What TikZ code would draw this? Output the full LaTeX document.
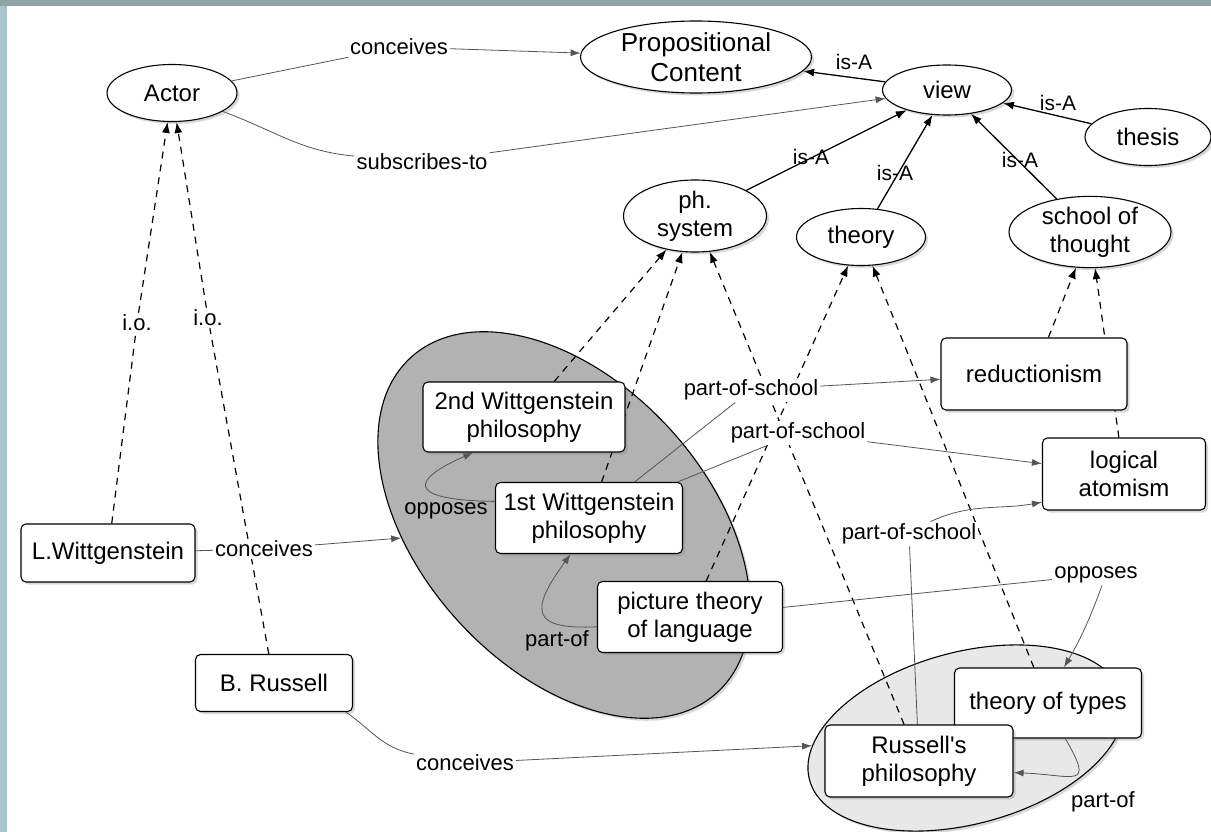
\documentclass[tikz,border=0pt]{standalone}
\usepackage{fontspec}
\setmainfont{Liberation Sans}
\usetikzlibrary{shapes.geometric}
\usetikzlibrary{arrows.meta}
\usetikzlibrary{shadows}
\usetikzlibrary{backgrounds}

\definecolor{framebar}{HTML}{8EA3A6}
\definecolor{sidebar}{HTML}{AAC5C9}
\definecolor{linkgray}{HTML}{555555}

\newcommand{\nodefont}{\fontsize{24}{28}\selectfont}
\newcommand{\phrasefont}{\fontsize{22}{25}\selectfont}
\newcommand{\isafont}{\fontsize{21}{24}\selectfont}

\begin{document}
\begin{tikzpicture}[x=1pt,y=-1pt,
    softshadow/.style={drop shadow={shadow xshift=2.5pt,shadow yshift=-2.5pt,opacity=0.3}},
    concept/.style={ellipse,draw,fill=white,line width=1.1pt,inner sep=0pt,align=center,font=\nodefont,softshadow},
    thing/.style={rectangle,rounded corners=5pt,draw,fill=white,line width=1.1pt,inner sep=0pt,align=center,font=\nodefont,softshadow},
    darkgroup/.style={ellipse,draw,fill=black!30,line width=1.1pt,softshadow},
    lightgroup/.style={ellipse,draw,fill=black!9,line width=1.1pt,softshadow},
    phrase/.style={fill=white,inner sep=2pt,font=\phrasefont},
    note/.style={inner sep=1pt,font=\phrasefont},
    isalabel/.style={inner sep=1pt,font=\isafont},
    link/.style={draw=linkgray,line width=0.8pt},
    linkarrow/.style={link,-{Latex[length=10pt,width=7pt]}},
    isa/.style={line width=1.3pt,-{Latex[length=11pt,width=8pt]}},
    dashline/.style={line width=1.2pt,dash pattern=on 7pt off 6pt},
    inst/.style={dashline,-{Latex[length=11pt,width=8pt]}}]
  \useasboundingbox (0,0) rectangle (1211,832);

  % the two groups of views
  \begin{scope}[on background layer]
    \fill[white] (0,0) rectangle (1211,832);
    \node[darkgroup,minimum width=454pt,minimum height=286pt,rotate=-47.5] (wgrp) at (564,525) {};
    \node[lightgroup,minimum width=324pt,minimum height=172pt,rotate=15] (rgrp) at (966,738) {};
  \end{scope}

  % concepts
  \node[concept,minimum width=130pt,minimum height=57pt] (actor) at (172,93) {Actor};
  \node[concept,minimum width=231pt,minimum height=72pt,font=\fontsize{26}{30}\selectfont] (propc) at (696,57) {Propositional\\Content};
  \node[concept,minimum width=129pt,minimum height=50pt] (view) at (947,90) {view};
  \node[concept,minimum width=126pt,minimum height=57pt] (thesis) at (1148,137) {thesis};
  \node[concept,minimum width=143pt,minimum height=72pt] (phsys) at (695,216) {ph.\\system};
  \node[concept,minimum width=129pt,minimum height=57pt] (theory) at (861,237) {theory};
  \node[concept,minimum width=162pt,minimum height=68pt] (school) at (1090,232) {school of\\thought};

  % instances
  \node[thing,minimum width=186pt,minimum height=72pt] (reduct) at (1034,374) {reductionism};
  \node[thing,minimum width=163pt,minimum height=72pt] (logatom) at (1124,474) {logical\\atomism};
  \node[thing,minimum width=202pt,minimum height=70pt] (witt2) at (524,417) {2nd Wittgenstein\\philosophy};
  \node[thing,minimum width=187pt,minimum height=71pt] (witt1) at (589,518) {1st Wittgenstein\\philosophy};
  \node[thing,minimum width=185pt,minimum height=71pt] (pictth) at (690,617) {picture theory\\of language};
  \node[thing,minimum width=174pt,minimum height=58pt] (lwitt) at (108,553) {L.Wittgenstein};
  \node[thing,minimum width=157pt,minimum height=57pt] (brussell) at (274,683) {B. Russell};
  \node[thing,minimum width=187pt,minimum height=70pt] (types) at (1048,703) {theory of types};
  \node[thing,minimum width=188pt,minimum height=72pt] (russph) at (919,761) {Russell\textquotesingle s\\philosophy};

  % linking phrases
  \node[phrase] (lconc1) at (399,47) {conceives};
  \node[phrase] (lsubs) at (422,162) {subscribes-to};
  \node[phrase] (lio1) at (137,323) {i.o.};
  \node[phrase] (lio2) at (208,318) {i.o.};
  \node[phrase] (lconc2) at (264,549) {conceives};
  \node[phrase] (lconc3) at (465,763) {conceives};
  \node[phrase] (lpos1) at (751,390) {part-of-school};
  \node[phrase] (lpos2) at (798,433) {part-of-school};
  \node[phrase] (lpos3) at (909,534) {part-of-school};
  \node[phrase] (lopp2) at (1096,575) {opposes};
  \node[note] (lopp1) at (446,511) {opposes};
  \node[note] (lpart1) at (557,641) {part-of};
  \node[note] (lpart2) at (1103,802) {part-of};
  \node[isalabel] (isa1) at (854,62) {is-A};
  \node[isalabel] (isa2) at (1058,103) {is-A};
  \node[isalabel] (isa3) at (811,157) {is-A};
  \node[isalabel] (isa4) at (895,173) {is-A};
  \node[isalabel] (isa5) at (1020,160) {is-A};

  % connectors
  \begin{scope}[on background layer]
    \foreach \src/\dst in {view/propc,thesis/view,phsys/view,theory/view,school/view}
      \draw[isa] (\src) -- (\dst);
    \foreach \src/\dst in {witt2/phsys,witt1/phsys,russph/phsys,pictth/theory,types/theory,reduct/school,logatom/school}
      \draw[inst] (\src) -- (\dst);
    \draw[dashline] (lwitt) -- (lio1);
    \draw[inst] (lio1) -- (actor);
    \draw[dashline] (brussell) -- (lio2);
    \draw[inst] (lio2) -- (actor);
    \draw[link] (actor) -- (lconc1);
    \draw[linkarrow] (lconc1) -- (propc);
    \draw[link] (actor) to[out=-20,in=175] (lsubs);
    \draw[linkarrow] (lsubs) -- (view);
    \draw[link] (lwitt) -- (lconc2);
    \draw[linkarrow] (lconc2) -- (wgrp);
    \draw[link] (brussell.-22) to[out=-35,in=170] (lconc3);
    \draw[linkarrow] (lconc3) -- (rgrp);
    \draw[linkarrow] (witt1.170) .. controls (400,500) and (415,478) .. (witt2.215);
    \draw[linkarrow] (pictth.186) .. controls (530,630) and (530,610) .. (witt1.243);
    \draw[link] (witt1) -- (lpos1);
    \draw[linkarrow] (lpos1) -- (reduct);
    \draw[link] (witt1) -- (lpos2);
    \draw[linkarrow] (lpos2) -- (logatom);
    \draw[link] (russph) -- (lpos3);
    \draw[linkarrow] (lpos3.30) to[out=25,in=190] (logatom.199);
    \draw[link] (pictth) -- (lopp2);
    \draw[linkarrow] (lopp2.300) to[out=-110,in=60] ([xshift=16pt]types.north);
    \draw[linkarrow] (types.296) .. controls (1095,790) and (1075,775) .. (russph.353);
  \end{scope}

  % window frame
  \fill[framebar] (0,0) rectangle (1211,6);
  \fill[sidebar] (0,6) rectangle (7,832);
\end{tikzpicture}
\end{document}
